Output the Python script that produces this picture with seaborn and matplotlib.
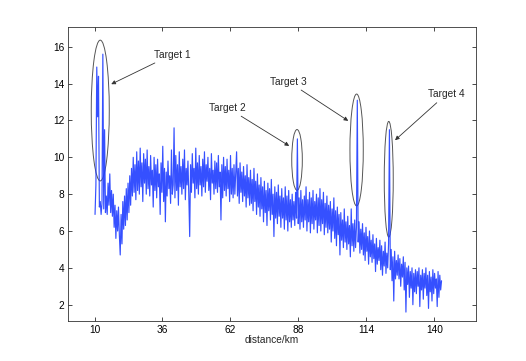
import numpy as np
import pandas as pd
import matplotlib
matplotlib.use("Agg")
import matplotlib.pyplot as plt
from matplotlib.patches import Ellipse
import seaborn as sns

# signal, 10 samples per row, from 10.2 km to 142.8 km
signal = [
    6.9, 8.5, 14.9, 12.2, 14.4, 7.3, 7.6, 6.9, 7.5, 15.6,
    7.2, 11.5, 7.0, 7.9, 6.9, 8.6, 7.4, 9.1, 7.0, 8.2,
    6.8, 8.0, 6.2, 7.4, 5.6, 7.1, 6.0, 7.3, 5.8, 4.7,
    6.9, 5.3, 7.6, 6.1, 7.9, 6.3, 8.3, 6.6, 8.6, 7.0,
    9.0, 7.4, 9.4, 7.9, 10.0, 8.1, 9.6, 7.7, 10.3, 8.2,
    9.8, 8.0, 10.5, 8.4, 9.7, 7.6, 10.2, 8.6, 9.9, 8.0,
    10.4, 8.3, 9.5, 7.9, 10.1, 8.5, 9.3, 7.3, 10.0, 8.2,
    9.6, 7.8, 9.9, 8.4, 9.1, 6.9, 9.7, 8.1, 10.6, 7.6,
    9.4, 6.5, 9.2, 7.9, 9.8, 8.3, 9.0, 7.5, 10.4, 8.0,
    8.5, 11.6, 7.8, 10.1, 8.2, 9.6, 7.4, 10.3, 8.4, 9.5,
    8.0, 9.9, 8.3, 10.4, 7.7, 9.4, 8.5, 9.8, 7.9, 5.7,
    9.6, 8.1, 10.2, 8.6, 9.4, 7.8, 10.5, 8.3, 9.7, 8.0,
    10.1, 8.5, 9.5, 7.9, 9.9, 8.4, 10.3, 8.1, 9.6, 8.7,
    10.0, 8.2, 9.4, 7.7, 10.2, 8.6, 9.3, 8.0, 9.8, 8.3,
    9.7, 8.1, 10.1, 8.4, 9.2, 6.6, 9.6, 7.8, 10.0, 8.2,
    9.5, 7.9, 9.9, 8.3, 9.3, 7.6, 10.1, 8.0, 9.4, 7.8,
    9.6, 8.0, 9.1, 10.3, 7.9, 9.4, 7.5, 9.7, 8.1, 9.2,
    7.6, 9.5, 7.9, 9.0, 7.3, 9.6, 7.8, 8.9, 7.4, 9.3,
    7.5, 8.8, 7.1, 9.4, 7.6, 8.7, 6.9, 9.1, 7.3, 8.5,
    6.8, 8.9, 7.2, 8.4, 6.5, 8.7, 7.0, 8.2, 6.3, 8.6,
    7.1, 8.3, 6.6, 8.8, 6.9, 8.0, 5.7, 8.4, 6.7, 8.1,
    6.4, 8.5, 6.8, 7.9, 6.2, 8.3, 6.7, 7.8, 6.1, 8.4,
    6.6, 7.9, 6.0, 8.2, 6.5, 7.7, 6.2, 8.0, 6.6, 7.6,
    6.3, 8.1, 6.7, 11.0, 6.4, 7.8, 6.1, 8.2, 6.5, 7.7,
    6.2, 7.9, 6.6, 8.4, 6.0, 7.7, 6.5, 8.1, 5.9, 7.8,
    6.4, 8.2, 6.1, 7.6, 6.6, 8.0, 5.9, 7.8, 6.3, 8.3,
    6.0, 7.7, 6.4, 8.1, 5.8, 7.5, 6.2, 7.9, 5.9, 7.4,
    6.1, 7.6, 5.4, 7.2, 6.0, 7.8, 5.6, 7.1, 5.2, 7.3,
    5.8, 6.9, 4.7, 7.0, 5.5, 6.6, 5.1, 7.2, 5.4, 6.5,
    5.0, 6.8, 5.3, 6.3, 4.6, 7.2, 5.2, 6.4, 4.9, 6.6,
    5.1, 6.2, 13.1, 5.4, 6.5, 4.8, 6.1, 5.0, 6.4, 4.7,
    5.9, 4.4, 6.2, 4.9, 5.7, 4.2, 6.0, 4.6, 5.5, 4.3,
    5.8, 4.5, 5.3, 3.8, 5.6, 4.2, 5.1, 4.4, 5.5, 3.9,
    5.2, 3.6, 4.9, 4.1, 5.4, 3.7, 4.8, 4.0, 5.3, 11.5,
    3.9, 5.0, 3.3, 4.6, 2.2, 4.9, 3.4, 4.4, 3.6, 4.7,
    3.4, 4.5, 3.0, 4.2, 3.5, 4.6, 2.8, 4.3, 1.6, 4.0,
    3.1, 4.1, 2.4, 3.8, 2.9, 4.0, 2.0, 3.7, 2.7, 3.9,
    2.6, 3.8, 3.0, 4.0, 1.9, 3.6, 2.8, 3.9, 2.3, 3.7,
    2.9, 4.0, 2.5, 3.6, 1.8, 3.8, 2.7, 3.5, 2.2, 3.9,
    2.6, 3.7, 2.9, 3.4, 1.9, 3.8, 2.4, 3.6, 2.8, 3.3,
]
distance = np.linspace(10.2, 142.8, len(signal))
df = pd.DataFrame({"distance": distance, "value": signal})

x_ticks = [10, 36, 62, 88, 114, 140]
y_ticks = [2, 4, 6, 8, 10, 12, 14, 16]

# target markers (ellipses) and labels
targets = ["Target 1", "Target 2", "Target 3", "Target 4"]
ell_center = [(12.2, 12.54), (87.5, 9.86), (110.3, 10.4), (122.6, 8.81)]
ell_size = [(6.9, 7.64), (4.05, 3.3), (5.1, 6.07), (3.44, 6.28)]
text_pos = [(32.6, 15.3), (54.0, 12.41), (77.2, 13.83), (137.5, 13.14)]
arrow_tip = [(16.4, 13.97), (84.5, 10.62), (107.1, 11.98), (125.0, 10.93)]

sns.set_style("white")
plt.rcParams['font.family'] = ['Liberation Sans', 'DejaVu Sans']

fig = plt.figure(figsize=(5.26, 3.61), dpi=100)
ax = fig.add_axes([0.13, 0.11, 0.775, 0.815])

sns.lineplot(data=df, x="distance", y="value", ax=ax, estimator=None,
             color="#1f3dff", linewidth=0.85, alpha=0.9)

for (cx, cy), (w, h) in zip(ell_center, ell_size):
    ax.add_patch(Ellipse((cx, cy), w, h, fill=False, edgecolor="#555555", linewidth=0.7))

for name, (tx, ty), (ax_, ay_) in zip(targets, text_pos, arrow_tip):
    ax.annotate(name, xy=(ax_, ay_), xytext=(tx, ty), fontsize=7.3,
                ha="left", va="bottom",
                arrowprops=dict(arrowstyle="-|>", color="#333333", lw=0.6,
                                mutation_scale=6, shrinkA=0, shrinkB=0))

ax.set_xlim(0, 156)
ax.set_ylim(1.1, 17.07)
ax.set_xticks(x_ticks)
ax.set_yticks(y_ticks)
ax.set_xlabel("distance/km", fontsize=7.3, labelpad=0)
ax.set_ylabel("")
ax.tick_params(direction="in", length=3, width=0.5, labelsize=7.3,
               top=True, right=True, bottom=True, left=True, pad=3, colors="black")
for s in ax.spines.values():
    s.set_linewidth(0.6)
    s.set_color("#333333")

plt.savefig("out.png", dpi=100)
